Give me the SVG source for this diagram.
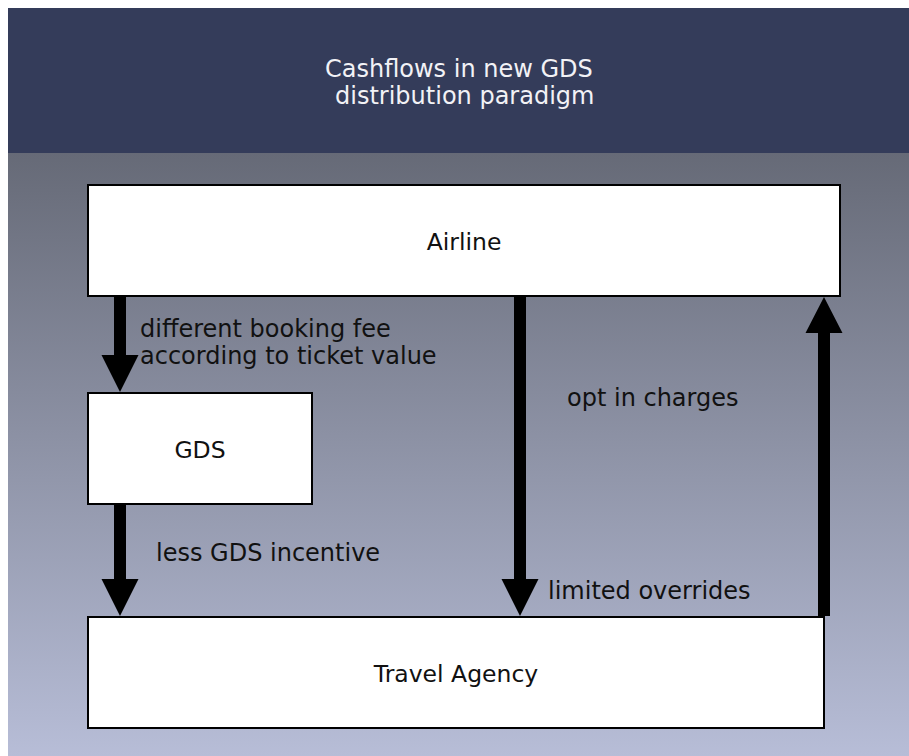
<svg xmlns="http://www.w3.org/2000/svg" width="909" height="756" viewBox="0 0 909 756">
  <defs>
    <linearGradient id="bg" x1="0" y1="0" x2="0" y2="1">
      <stop offset="0" stop-color="#666a77"/>
      <stop offset="1" stop-color="#b7bdd7"/>
    </linearGradient>
    <style>
      .box { fill: #ffffff; stroke: #000000; stroke-width: 2; }
      .lbl { font-family: "DejaVu Sans", Verdana, sans-serif; font-size: 23.5px; fill: #111111; }
      .edge { font-size: 24px; }
      .ctr { text-anchor: middle; }
      .title { font-family: "DejaVu Sans", Verdana, sans-serif; font-size: 24px; fill: #f2f2f6; }
      .arrow { fill: #000000; stroke: none; }
    </style>
  </defs>
  <rect x="0" y="0" width="909" height="756" fill="#ffffff"/>
  <rect x="8" y="153" width="901" height="603" fill="url(#bg)"/>
  <g id="header">
    <rect x="8" y="8" width="901" height="145" fill="#343c5a"/>
    <text class="title" x="325" y="77">Cashflows in new GDS</text>
    <text class="title" x="335" y="103.5">distribution paradigm</text>
  </g>
  <g id="airline">
    <rect class="box" x="88" y="185" width="752" height="111"/>
    <text class="lbl ctr" x="464" y="250">Airline</text>
  </g>
  <g id="gds">
    <rect class="box" x="88" y="393" width="224" height="111"/>
    <text class="lbl ctr" x="200" y="458">GDS</text>
  </g>
  <g id="travel-agency">
    <rect class="box" x="88" y="617" width="736" height="111"/>
    <text class="lbl ctr" x="456" y="682">Travel Agency</text>
  </g>
  <g id="connectors">
    <path class="arrow" d="M114,297 L126,297 L126,355 L138.5,355 L120,392 L101.5,355 L114,355 Z"/>
    <path class="arrow" d="M114,504 L126,504 L126,579 L138.5,579 L120,616 L101.5,579 L114,579 Z"/>
    <path class="arrow" d="M514,297 L526,297 L526,579 L538.5,579 L520,616 L501.5,579 L514,579 Z"/>
    <path class="arrow" d="M818,616 L830,616 L830,333 L842.5,333 L824,297 L805.5,333 L818,333 Z"/>
    <text class="lbl edge" x="140" y="337">different booking fee</text>
    <text class="lbl edge" x="140" y="364">according to ticket value</text>
    <text class="lbl edge" x="156" y="561">less GDS incentive</text>
    <text class="lbl edge" x="567" y="406">opt in charges</text>
    <text class="lbl edge" x="548" y="599">limited overrides</text>
  </g>
</svg>
